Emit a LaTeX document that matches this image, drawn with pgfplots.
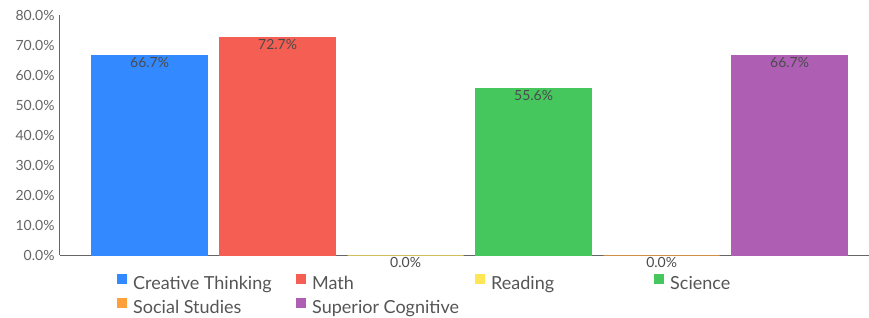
\documentclass[border=0pt]{standalone}
\usepackage{fontspec}
\setmainfont{Lato}
\usepackage{pgfplots}
\pgfplotsset{compat=1.18}
\definecolor{cBlue}{RGB}{51,137,255}
\definecolor{cRed}{RGB}{245,94,83}
\definecolor{cYellow}{RGB}{255,230,85}
\definecolor{cGreen}{RGB}{70,199,94}
\definecolor{cOrange}{RGB}{255,160,60}
\definecolor{cPurple}{RGB}{174,95,180}
\definecolor{axisgray}{RGB}{102,102,102}
\definecolor{tickgray}{RGB}{100,100,100}
\definecolor{labelgray}{RGB}{75,75,75}
\definecolor{legendgray}{RGB}{85,85,85}
\newcommand{\lbox}[1]{\makebox[163bp][l]{\strut #1}}
\begin{document}
\begin{tikzpicture}
\begin{axis}[
  at={(0,0)}, anchor=south west,
  width=809bp, height=240bp, scale only axis,
  ybar, bar shift=0pt, bar width=0.906,
  xmin=-0.7, xmax=5.62, ymin=0, ymax=80,
  ytick={0,10,...,80}, xtick=\empty,
  axis x line*=bottom, axis y line*=left,
  axis line style={draw=axisgray, line width=1bp},
  major tick length=0pt,
  clip=false,
  /pgf/number format/assume math mode=true,
  yticklabel={\pgfmathprintnumber[fixed,fixed zerofill,precision=1]{\tick}\%},
  yticklabel style={font=\fontsize{14bp}{16bp}\selectfont, text=tickgray, xshift=-2bp},
  nodes near coords={\pgfmathprintnumber[fixed,fixed zerofill,precision=1]{\pgfplotspointmeta}\%},
  nodes near coords style={anchor=north, font=\fontsize{14bp}{16bp}\selectfont, text=labelgray, inner sep=1.5bp, yshift=-0.5bp},
  legend columns=4,
  legend style={at={(0,0)}, anchor=north west, xshift=57bp, yshift=-18.5bp,
    draw=none, fill=none, inner sep=0pt,
    font=\fontsize{18bp}{21bp}\selectfont, text=legendgray,
    nodes={inner sep=0pt},
    /tikz/every odd column/.append style={column sep=6bp},
    row sep=7bp},
  legend image code/.code={\path[#1, draw=none] (0bp,-1bp) rectangle (10bp,9bp);},
]
\addplot[fill=cBlue, draw=cBlue] coordinates {(0,66.7)};
\addlegendentry{\lbox{Creative Thinking}}
\addplot[fill=cRed, draw=cRed] coordinates {(1,72.7)};
\addlegendentry{\lbox{Math}}
\addplot[fill=cYellow, draw=cYellow] coordinates {(2,0)};
\addlegendentry{\lbox{Reading}}
\addplot[fill=cGreen, draw=cGreen] coordinates {(3,55.6)};
\addlegendentry{\lbox{Science}}
\addplot[fill=cOrange, draw=cOrange] coordinates {(4,0)};
\addlegendentry{\lbox{Social Studies}}
\addplot[fill=cPurple, draw=cPurple] coordinates {(5,66.7)};
\addlegendentry{\lbox{Superior Cognitive}}
\end{axis}
\pgfresetboundingbox
\path (-60bp,-63bp) rectangle (809bp,255bp);
\end{tikzpicture}
\end{document}
